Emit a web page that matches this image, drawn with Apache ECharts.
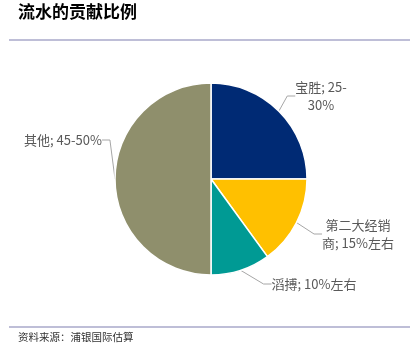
<!DOCTYPE html>
<html><head><meta charset="utf-8">
<script src="https://cdn.jsdelivr.net/npm/echarts@6/dist/echarts.min.js"></script>
<style>html,body{margin:0;padding:0;background:#fff}#c{width:417px;height:357px}</style>
</head><body><div id="c"></div>
<script>
var names = ['宝胜', '第二大经销商', '滔搏', '其他'];
var values = [25, 15, 10, 50];
var labelTexts = ['宝胜; 25-\n30%', '第二大经销\n商; 15%左右', '滔搏; 10%左右', '其他; 45-50%'];
var colors = ['#002A74', '#FFC000', '#009A94', '#8F8F6C'];

var labelPos = [
  {x: 321, y: 96, align: 'center'},
  {x: 358, y: 234, align: 'center'},
  {x: 314, y: 284, align: 'center'},
  {x: 63, y: 140, align: 'center'}
];

var chart = echarts.init(document.getElementById('c'));
chart.setOption({
  animation: false,
  graphic: [
    {type: 'text', left: 18, top: 3, style: {text: '流水的贡献比例', font: 'bold 17px "Noto Sans CJK SC"', fill: '#000'}},
    {type: 'line', shape: {x1: 9, y1: 40, x2: 410, y2: 40}, style: {stroke: '#7F7FAF', lineWidth: 1.2}},
    {type: 'line', shape: {x1: 9, y1: 327, x2: 410, y2: 327}, style: {stroke: '#7F7FAF', lineWidth: 1.2}},
    {type: 'text', left: 18, top: 332, style: {text: '资料来源：浦银国际估算', font: '10.5px "Noto Sans CJK SC"', fill: '#333'}}
  ],
  series: [{
    type: 'pie',
    center: [211, 179],
    radius: [0, 96],
    startAngle: 90,
    clockwise: true,
    itemStyle: {borderColor: '#fff', borderWidth: 1.5},
    label: {
      show: true,
      formatter: function (p) { return labelTexts[p.dataIndex]; },
      color: '#595959',
      fontSize: 13,
      lineHeight: 18,
      fontFamily: '"Noto Sans CJK SC"',
      align: 'center'
    },
    labelLine: {show: true, length: 8, length2: 8, lineStyle: {color: '#A6A6A6', width: 1}},
    labelLayout: function (p) {
      var lp = labelPos[p.dataIndex];
      return {x: lp.x, y: lp.y, align: lp.align, verticalAlign: 'middle'};
    },
    data: names.map(function (n, i) { return {name: n, value: values[i], itemStyle: {color: colors[i]}}; })
  }]
});
</script></body></html>
